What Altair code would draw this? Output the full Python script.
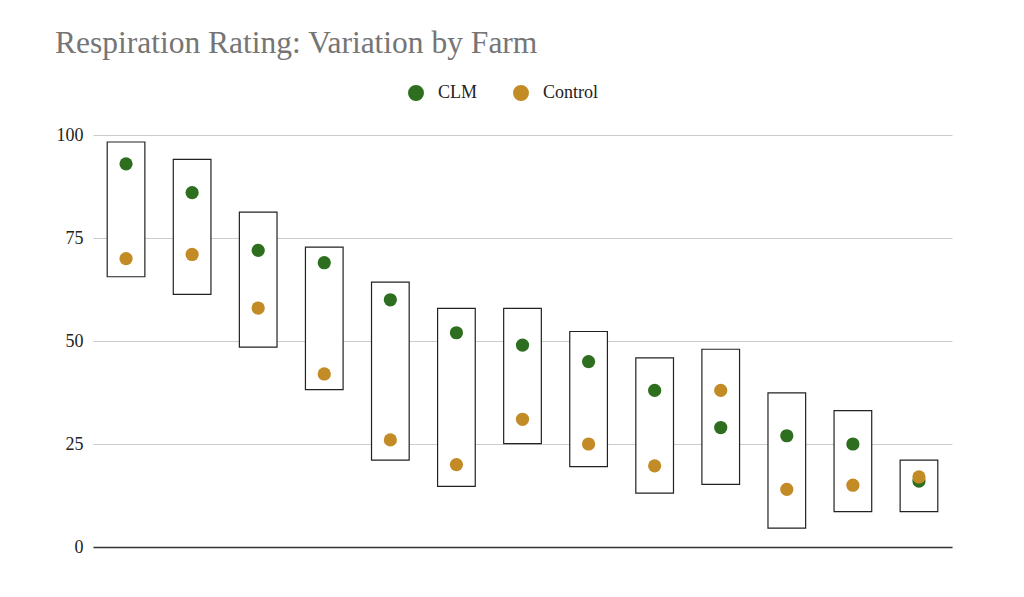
import altair as alt
import pandas as pd

farms = [f"Farm {i}" for i in range(1, 14)]
clm = [93, 86, 72, 69, 60, 52, 49, 45, 38, 29, 27, 25, 16]
control = [70, 71, 58, 42, 26, 20, 31, 25, 19.7, 38, 14, 15, 17]
box_low = [65.6, 61.3, 48.5, 38.2, 21.1, 14.7, 25.1, 19.5, 13.1, 15.2, 4.6, 8.6, 8.6]
box_high = [98.3, 94.1, 81.3, 72.8, 64.3, 57.9, 57.9, 52.3, 45.9, 48.0, 37.4, 33.1, 21.1]

FONT = "Liberation Serif"

boxes = pd.DataFrame({"farm": farms, "low": box_low, "high": box_high})
points = pd.DataFrame({
    "farm": farms + farms,
    "series": ["CLM"] * len(farms) + ["Control"] * len(farms),
    "value": clm + control,
    "order": list(range(len(farms))) + list(range(len(farms), 2 * len(farms))),
})

x_enc = alt.X("farm:N", sort=farms,
              scale=alt.Scale(paddingInner=0, paddingOuter=0),
              axis=alt.Axis(labels=False, ticks=False, title=None, grid=False,
                            domainColor="#333333", domainWidth=1.5))

y_scale = alt.Scale(domain=[0, 100], nice=False)

bars = alt.Chart(boxes).mark_bar(
    fill="white", stroke="#222222", strokeWidth=1.2,
    width=alt.RelativeBandSize(0.57)
).encode(
    x=x_enc,
    y=alt.Y("low:Q", scale=y_scale,
            axis=alt.Axis(values=[0, 25, 50, 75, 100], title=None, ticks=False,
                          domain=False, gridColor="#cccccc", gridWidth=1.2,
                          labelFont=FONT, labelFontSize=18, labelColor="#222222",
                          labelPadding=10)),
    y2="high:Q",
)

dots = alt.Chart(points).mark_circle(size=175, opacity=1).encode(
    x=alt.X("farm:N", sort=farms),
    y=alt.Y("value:Q", scale=y_scale),
    color=alt.Color("series:N",
                    scale=alt.Scale(domain=["CLM", "Control"], range=["#2e6e1f", "#c28b26"]),
                    legend=alt.Legend(title=None, orient="none", direction="horizontal",
                                      legendX=314, legendY=-51,
                                      symbolType="circle", symbolSize=254,
                                      labelFont=FONT, labelFontSize=18, labelColor="#222222",
                                      labelOffset=13, columnPadding=34,
                                      symbolStrokeWidth=0)),
    order=alt.Order("order:Q"),
)

chart = alt.layer(bars, dots).properties(
    width=859,
    height=412,
    autosize=alt.AutoSizeParams(type="none"),
    padding={"left": 85, "top": 127, "right": 60, "bottom": 40},
    title=alt.TitleParams("Respiration Rating: Variation by Farm", anchor="start", frame="group",
                          dx=-38, font=FONT, fontSize=31.5, fontWeight="normal",
                          color="#757575", baseline="alphabetic", offset=0),
).configure_view(stroke=None)

chart.save("out.html", embed_options={"renderer": "svg", "actions": False})
